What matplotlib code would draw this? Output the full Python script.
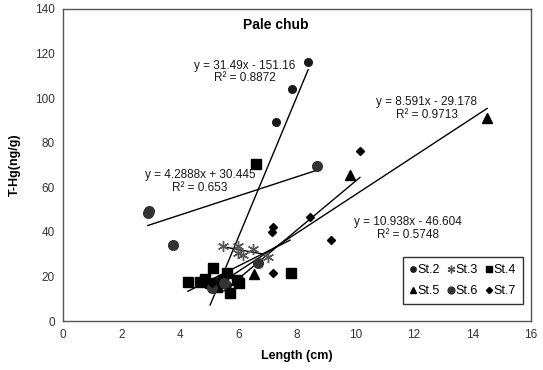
import numpy as np
import matplotlib.pyplot as plt

plt.rcParams['font.family'] = ['Liberation Sans', 'DejaVu Sans']

# === data ===
st2_x = [5.3, 5.6, 7.28, 7.83, 8.38]
st2_y = [18.0, 16.0, 89.5, 104.0, 116.0]
st3_x = [5.47, 5.98, 5.98, 6.15, 6.5, 7.0]
st3_y = [33.6, 33.6, 30.5, 29.6, 32.3, 28.7]
st4_x = [4.27, 4.68, 4.85, 5.03, 5.13, 5.26, 5.47, 5.6, 5.7, 5.95, 6.0, 6.6, 7.8]
st4_y = [17.5, 17.5, 18.8, 17.0, 23.8, 15.3, 18.4, 21.5, 12.5, 18.4, 17.0, 70.5, 21.5]
st5_x = [4.8, 5.2, 6.53, 9.8, 14.5]
st5_y = [18.0, 16.0, 21.0, 65.5, 91.0]
st6_x = [2.9, 2.95, 3.76, 5.1, 5.5, 6.67, 8.7]
st6_y = [48.4, 49.2, 34.0, 15.0, 17.0, 26.0, 69.5]
st7_x = [5.1, 7.14, 7.18, 7.18, 8.44, 9.16, 10.15]
st7_y = [17.0, 40.0, 42.2, 21.5, 46.7, 36.3, 76.3]

# trend lines: slope, intercept, x range
fits = {
    'St.2': (31.49, -151.16, 5.03, 8.38),
    'St.3': (-2.4, 46.5, 5.54, 6.84),
    'St.4': (6.56, -14.6, 4.27, 7.76),
    'St.5': (8.591, -29.178, 5.0, 14.5),
    'St.6': (4.2888, 30.445, 2.9, 8.7),
    'St.7': (10.938, -46.604, 5.5, 10.15),
}

# equation labels: text, x, y
eq_labels = [
    ("y = 31.49x - 151.16\nR² = 0.8872", 6.22, 111.7),
    ("y = 4.2888x + 30.445\nR² = 0.653", 4.68, 62.6),
    ("y = 8.591x - 29.178\nR² = 0.9713", 12.44, 95.3),
    ("y = 10.938x - 46.604\nR² = 0.5748", 11.8, 41.5),
]

fig = plt.figure(figsize=(5.43, 3.7), dpi=100)
ax = fig.add_axes([0.116, 0.132, 0.862, 0.844])

for name, (a, b, x0, x1) in fits.items():
    xx = np.array([x0, x1])
    ax.plot(xx, a * xx + b, color='black', lw=1.0, zorder=2)

h2, = ax.plot(st2_x, st2_y, 'o', color='#1a1a1a', ms=5.5, ls='none', zorder=3)
h3, = ax.plot(st3_x, st3_y, marker=(6, 2, 0), color='#555555', ms=8, mew=1.0, ls='none', zorder=3)
h4, = ax.plot(st4_x, st4_y, 's', color='black', ms=7, ls='none', zorder=3)
h5, = ax.plot(st5_x, st5_y, '^', color='black', ms=6.5, ls='none', zorder=3)
h6, = ax.plot(st6_x, st6_y, 'o', color='#333333', ms=7, ls='none', zorder=3)
h7, = ax.plot(st7_x, st7_y, 'D', color='black', ms=4.5, ls='none', zorder=3)

for txt, x, y in eq_labels:
    ax.text(x, y, txt, ha='center', va='center', fontsize=8.5, linespacing=1.1,
            color='#1a1a1a', zorder=4)

ax.text(7.28, 132.8, 'Pale chub', ha='center', va='center', fontsize=10,
        fontweight='bold')

ax.set_xlim(0, 16)
ax.set_ylim(0, 140)
ax.set_xticks(np.arange(0, 17, 2))
ax.set_yticks(np.arange(0, 141, 20))
ax.tick_params(length=0, labelsize=8.5, labelcolor='#333333', pad=6)
for s in ax.spines.values():
    s.set_color('#555555')
    s.set_linewidth(1.0)

ax.set_xlabel('Length (cm)', fontsize=9, fontweight='bold', labelpad=6)
ax.set_ylabel('T-Hg(ng/g)', fontsize=9, fontweight='bold', labelpad=10)

leg = ax.legend([h2, h5, h3, h6, h4, h7],
                ['St.2', 'St.5', 'St.3', 'St.6', 'St.4', 'St.7'],
                ncol=3, loc='lower right', bbox_to_anchor=(0.983, 0.054),
                fontsize=9, frameon=True, fancybox=False, handlelength=0.5,
                handletextpad=0.15, columnspacing=0.6, borderpad=0.55,
                labelspacing=0.75, markerscale=0.7, borderaxespad=0)
leg.get_frame().set_edgecolor('black')
leg.get_frame().set_linewidth(1.0)

fig.savefig('out.png', dpi=100)
